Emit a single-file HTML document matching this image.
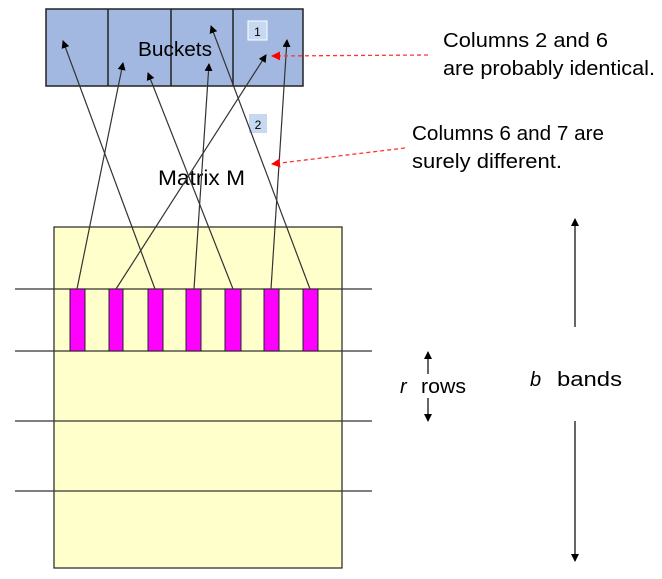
<!DOCTYPE html>
<html><head><meta charset="utf-8"><style>
html,body{margin:0;padding:0;background:#fff;}
svg{display:block;}
text{font-family:"Liberation Sans",sans-serif;fill:#000;}
</style></head><body>
<svg width="662" height="579" viewBox="0 0 662 579" xmlns="http://www.w3.org/2000/svg">
<defs>
<marker id="a" markerWidth="8" markerHeight="8" refX="7" refY="4" orient="auto" markerUnits="userSpaceOnUse"><path d="M0,0 L8,4 L0,8 z" fill="#000"/></marker>
<marker id="r" markerWidth="9" markerHeight="9" refX="8" refY="4.5" orient="auto" markerUnits="userSpaceOnUse"><path d="M0,0 L9,4.5 L0,9 z" fill="#f00"/></marker>
</defs>
<rect x="46" y="9" width="257" height="77" fill="#a3b8e0" stroke="#222" stroke-width="1.5"/>
<line x1="108" y1="9" x2="108" y2="86" stroke="#222" stroke-width="1.5"/>
<line x1="171" y1="9" x2="171" y2="86" stroke="#222" stroke-width="1.5"/>
<line x1="233" y1="9" x2="233" y2="86" stroke="#222" stroke-width="1.5"/>
<text x="138" y="56" font-size="20" textLength="74" lengthAdjust="spacingAndGlyphs">Buckets</text>
<rect x="248" y="21" width="19" height="19" fill="#c6d9f1" stroke="#fff" stroke-width="1"/>
<text x="257.5" y="36" font-size="12" text-anchor="middle">1</text>
<rect x="249" y="114" width="18" height="19" fill="#c6d9f1"/>
<text x="258" y="129" font-size="12" text-anchor="middle">2</text>
<text x="158" y="185" font-size="21" textLength="87" lengthAdjust="spacingAndGlyphs">Matrix M</text>
<rect x="54" y="227" width="288" height="341" fill="#ffffcc" stroke="#222" stroke-width="1.2"/>
<g stroke="#333" stroke-width="1.2">
<line x1="15" y1="289" x2="372" y2="289"/>
<line x1="15" y1="351" x2="372" y2="351"/>
<line x1="15" y1="421" x2="372" y2="421"/>
<line x1="15" y1="491" x2="372" y2="491"/>
</g>
<g fill="#ff00ff" stroke="#222" stroke-width="1">
<rect x="70" y="289" width="15" height="62"/>
<rect x="109" y="289" width="14" height="62"/>
<rect x="148" y="289" width="15" height="62"/>
<rect x="186" y="289" width="15" height="62"/>
<rect x="225" y="289" width="16" height="62"/>
<rect x="264" y="289" width="15" height="62"/>
<rect x="303" y="289" width="15" height="62"/>
</g>
<g stroke="#333" stroke-width="1.2" marker-end="url(#a)">
<line x1="77" y1="289" x2="123" y2="63"/>
<line x1="155" y1="289" x2="63" y2="41"/>
<line x1="116" y1="289" x2="266" y2="55"/>
<line x1="194" y1="289" x2="209" y2="64"/>
<line x1="233" y1="289" x2="148" y2="73"/>
<line x1="271" y1="289" x2="287" y2="40"/>
<line x1="310" y1="289" x2="211" y2="26"/>
</g>
<g stroke="#f33" stroke-width="1.3" stroke-dasharray="4,3" marker-end="url(#r)">
<line x1="428" y1="55" x2="272" y2="56"/>
<line x1="405" y1="148" x2="272" y2="164"/>
</g>
<text x="443" y="47" font-size="20" textLength="165" lengthAdjust="spacingAndGlyphs">Columns 2 and 6</text>
<text x="443" y="75" font-size="20" textLength="212" lengthAdjust="spacingAndGlyphs">are probably identical.</text>
<text x="412" y="140" font-size="20" textLength="192" lengthAdjust="spacingAndGlyphs">Columns 6 and 7 are</text>
<text x="412" y="168" font-size="20" textLength="150" lengthAdjust="spacingAndGlyphs">surely different.</text>
<g stroke="#000" stroke-width="1.2" marker-end="url(#a)">
<line x1="428" y1="374" x2="428" y2="352"/>
<line x1="428" y1="398" x2="428" y2="421"/>
<line x1="575" y1="327" x2="575" y2="219"/>
<line x1="575" y1="421" x2="575" y2="561"/>
</g>
<text x="400" y="393" font-size="20" font-style="italic">r</text>
<text x="421" y="393" font-size="20" textLength="45" lengthAdjust="spacingAndGlyphs">rows</text>
<text x="530" y="386" font-size="20" font-style="italic">b</text>
<text x="557" y="386" font-size="20" textLength="65" lengthAdjust="spacingAndGlyphs">bands</text>
</svg>
</body></html>
